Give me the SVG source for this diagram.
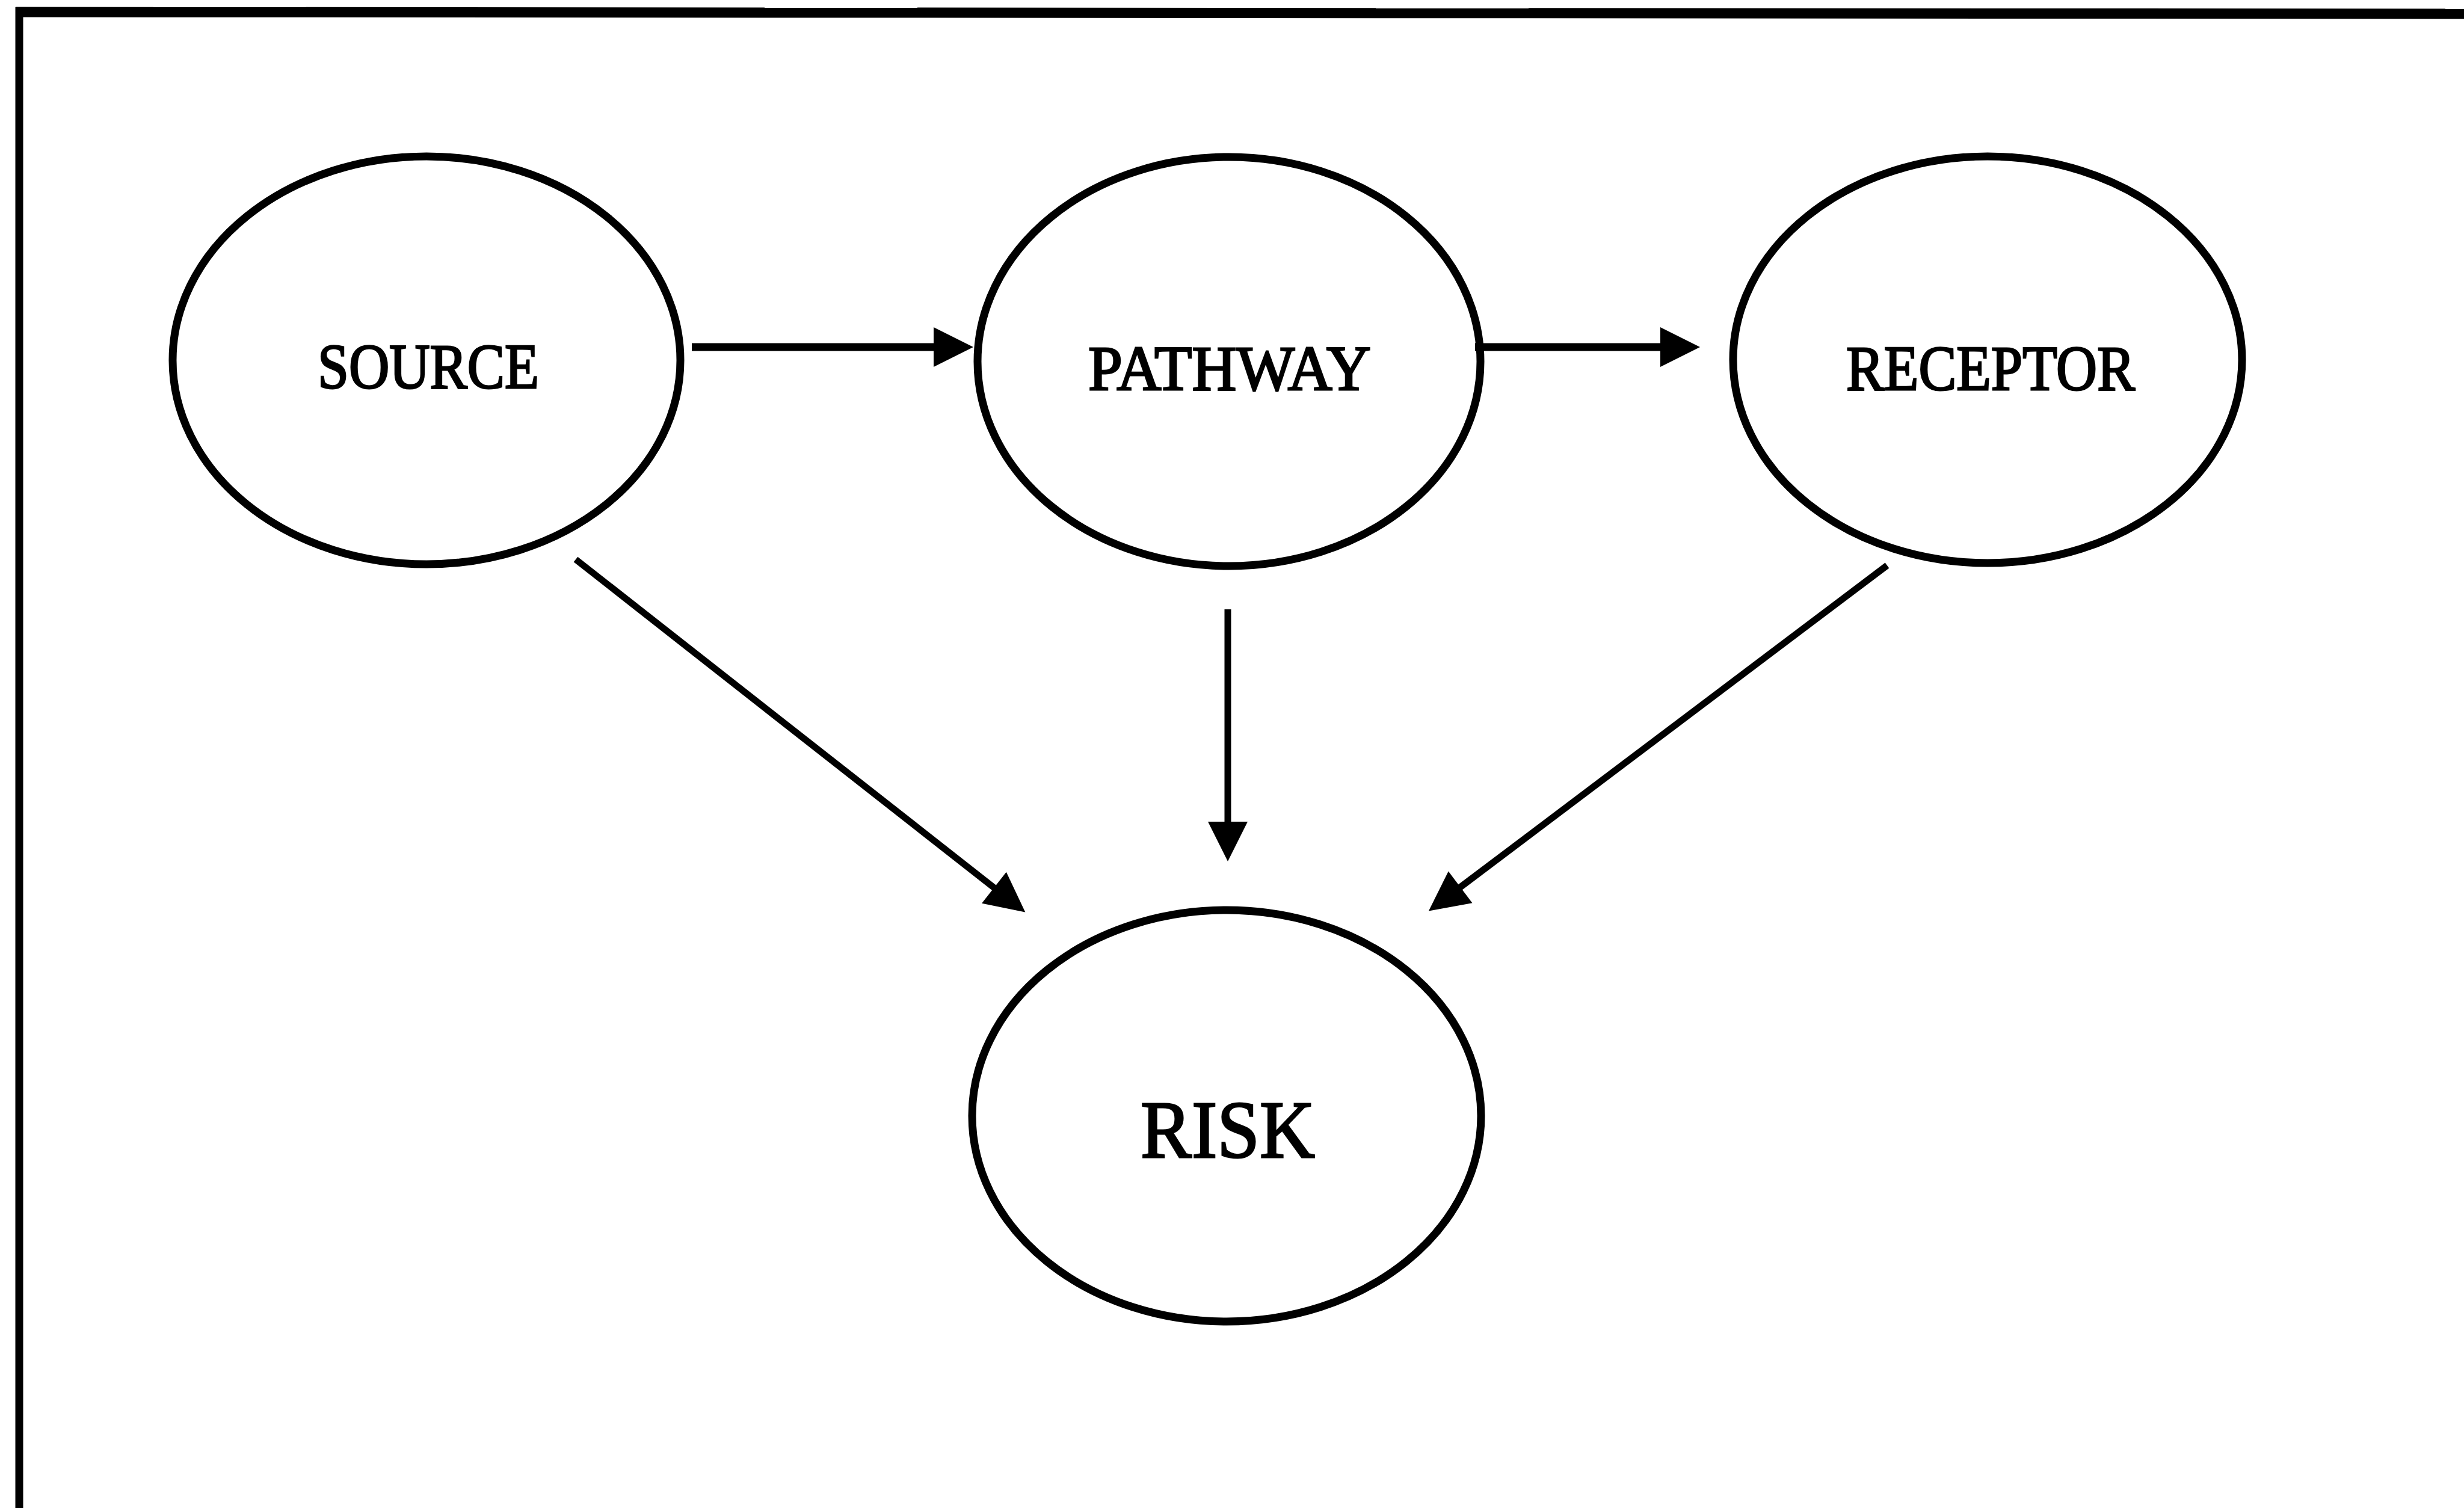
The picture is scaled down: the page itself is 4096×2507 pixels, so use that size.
<svg xmlns="http://www.w3.org/2000/svg" width="4096" height="2507" viewBox="0 0 4096 2507">
  <defs>
    <style>
      .frame { stroke: #000; fill: none; stroke-linecap: butt; }
      .node ellipse { fill: #fff; stroke: #000; stroke-width: 13; }
      .node text { font-family: "Liberation Serif", "Times New Roman", serif; fill: #000; stroke: #000; stroke-width: 3; text-anchor: middle; }
      .label { font-size: 106px; }
      .label-big { font-size: 136px; }
      .conn line { stroke: #000; fill: none; stroke-linecap: butt; }
      .thick { stroke-width: 13; }
      .thin { stroke-width: 11; }
    </style>
    <marker id="head" markerUnits="userSpaceOnUse" viewBox="0 -34 68 68" markerWidth="68" markerHeight="68" refX="2" refY="0" orient="auto" overflow="visible">
      <path d="M0,-33 L66,0 L0,33 Z" fill="#000"/>
    </marker>
  </defs>

  <rect width="4096" height="2507" fill="#fff"/>

  <!-- page frame: top and left rules -->
  <g id="frame">
    <line class="frame" x1="26" y1="20" x2="4096" y2="23" stroke-width="17"/>
    <line class="frame" x1="32" y1="12" x2="32" y2="2507" stroke-width="13"/>
  </g>

  <!-- nodes -->
  <g id="source" class="node">
    <ellipse cx="709" cy="599" rx="422" ry="339"/>
    <text class="label" x="712" y="645" textLength="368" lengthAdjust="spacingAndGlyphs">SOURCE</text>
  </g>
  <g id="pathway" class="node">
    <ellipse cx="2043" cy="601" rx="418" ry="340"/>
    <text class="label" x="2044" y="648" textLength="470" lengthAdjust="spacingAndGlyphs">PATHWAY</text>
  </g>
  <g id="receptor" class="node">
    <ellipse cx="3304" cy="598" rx="423" ry="338"/>
    <text class="label" x="3309" y="648" textLength="480" lengthAdjust="spacingAndGlyphs">RECEPTOR</text>
  </g>
  <g id="risk" class="node">
    <ellipse cx="2039" cy="1855" rx="423" ry="342"/>
    <text class="label-big" x="2041" y="1924" textLength="290" lengthAdjust="spacingAndGlyphs">RISK</text>
  </g>

  <!-- connectors -->
  <g id="connectors" class="conn">
    <line class="thick" x1="1150" y1="577" x2="1554" y2="577" marker-end="url(#head)"/>
    <line class="thick" x1="2452" y1="577" x2="2762" y2="577" marker-end="url(#head)"/>
    <line class="thin" x1="957" y1="930" x2="1654" y2="1477" marker-end="url(#head)"/>
    <line class="thin" x1="2041" y1="1013" x2="2041" y2="1368" marker-end="url(#head)"/>
    <line class="thin" x1="3137" y1="940" x2="2426" y2="1476" marker-end="url(#head)"/>
  </g>
</svg>
